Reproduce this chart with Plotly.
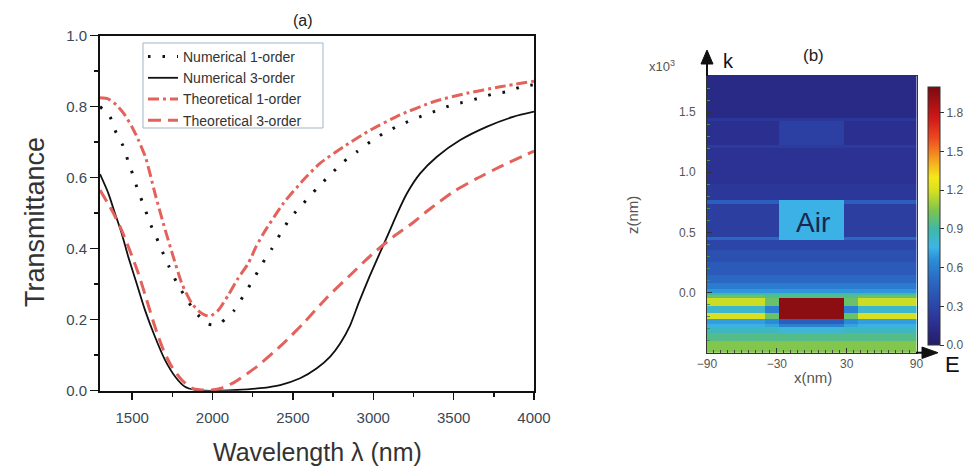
import plotly.graph_objects as go

# ---------------- data: panel (a) ----------------
num1_wl = [1300, 1362, 1393, 1443, 1476, 1507, 1538, 1576, 1607, 1649, 1688, 1730, 1777, 1829,
           1891, 1970, 2010, 2053, 2136, 2197, 2255, 2307, 2369, 2421, 2483, 2566, 2649, 2732,
           2815, 2898, 2981, 3064, 3147, 3240, 3323, 3406, 3490, 3573, 3656, 3739, 3828, 3915, 4000]
num1_T = [0.800, 0.772, 0.734, 0.690, 0.645, 0.605, 0.561, 0.518, 0.476, 0.434, 0.392, 0.349,
          0.305, 0.265, 0.223, 0.188, 0.185, 0.192, 0.227, 0.271, 0.314, 0.356, 0.400, 0.441,
          0.486, 0.528, 0.570, 0.608, 0.645, 0.673, 0.701, 0.725, 0.744, 0.763, 0.777, 0.791,
          0.805, 0.814, 0.824, 0.835, 0.842, 0.855, 0.862]

num3_wl = [1300, 1352, 1393, 1435, 1476, 1528, 1580, 1642, 1705, 1767, 1829, 1891, 1950, 2050,
           2150, 2296, 2421, 2545, 2649, 2732, 2794, 2857, 2910, 2975, 3040, 3100, 3150, 3210,
           3292, 3396, 3541, 3708, 3874, 4000]
num3_T = [0.610, 0.556, 0.500, 0.443, 0.377, 0.302, 0.227, 0.152, 0.086, 0.040, 0.011, 0.002,
          0.000, 0.000, 0.002, 0.007, 0.016, 0.035, 0.063, 0.096, 0.133, 0.185, 0.248, 0.320,
          0.387, 0.448, 0.500, 0.556, 0.612, 0.659, 0.706, 0.744, 0.772, 0.786]

theo1_wl = [1300, 1350, 1400, 1450, 1500, 1540, 1585, 1642, 1694, 1756, 1809, 1871, 1920, 1954,
            1985, 2037, 2099, 2161, 2223, 2270, 2317, 2441, 2566, 2670, 2815, 2981, 3168, 3375,
            3583, 3790, 4000]
theo1_T = [0.825, 0.822, 0.806, 0.780, 0.742, 0.705, 0.655, 0.556, 0.471, 0.377, 0.302, 0.246,
           0.222, 0.213, 0.210, 0.227, 0.270, 0.318, 0.359, 0.405, 0.443, 0.528, 0.594, 0.641,
           0.687, 0.734, 0.777, 0.814, 0.838, 0.856, 0.872]

theo3_wl = [1300, 1373, 1425, 1476, 1538, 1591, 1642, 1694, 1746, 1809, 1871, 1930, 1995, 2055,
            2140, 2276, 2431, 2566, 2711, 2846, 2992, 3126, 3240, 3344, 3500, 3645, 3790, 3946, 4000]
theo3_T = [0.565, 0.509, 0.462, 0.406, 0.331, 0.255, 0.180, 0.115, 0.068, 0.030, 0.007, 0.002,
           0.002, 0.007, 0.025, 0.068, 0.129, 0.190, 0.262, 0.321, 0.384, 0.434, 0.471, 0.509,
           0.561, 0.598, 0.631, 0.664, 0.675]

series_names = ["Numerical 1-order", "Numerical 3-order", "Theoretical 1-order", "Theoretical 3-order"]

a_xticks = [1500, 2000, 2500, 3000, 3500, 4000]
a_yticks = [0.0, 0.2, 0.4, 0.6, 0.8, 1.0]

# ---------------- data: panel (b) field map ----------------
# x column edges (nm); z band edges (x10^3 nm)
x_edges = [-90, -40, -28, 28, 40, 90]
z_edges = [-0.50, -0.40, -0.34, -0.29, -0.26, -0.22, -0.17, -0.11, -0.045, -0.02, 0.00, 0.03,
           0.08, 0.15, 0.25, 0.35, 0.44, 0.46, 0.74, 0.77, 0.90, 1.20, 1.23, 1.43, 1.45, 1.80]
# |E| in each band: outside region, next to block, inside block column
E_outer = [1.05, 0.95, 0.85, 0.75, 0.70, 1.20, 0.82, 1.18, 1.00, 0.92, 0.68, 0.58, 0.50, 0.42,
           0.36, 0.30, 0.50, 0.26, 0.45, 0.22, 0.18, 0.24, 0.16, 0.22, 0.12]
E_near = [1.05, 0.95, 0.85, 0.72, 0.65, 1.00, 0.60, 1.00, 0.95, 0.92, 0.68, 0.58, 0.50, 0.42,
          0.36, 0.30, 0.50, 0.26, 0.45, 0.22, 0.18, 0.24, 0.16, 0.22, 0.12]
E_inner = [1.05, 0.95, 0.80, 0.60, 0.45, 1.95, 1.95, 1.95, 0.95, 0.92, 0.68, 0.58, 0.50, 0.42,
           0.36, 0.30, 0.75, 0.75, 0.75, 0.22, 0.18, 0.24, 0.27, 0.22, 0.12]

cb_ticks = [0.0, 0.3, 0.6, 0.9, 1.2, 1.5, 1.8]
b_xticks = [-90, -30, 30, 90]
b_yticks = [0.0, 0.5, 1.0, 1.5]

# ---------------- figure ----------------
W, H = 968, 472
def X(px):
    return px / W
def Y(py):
    return 1 - py / H

FONT = "Liberation Sans, Arial, sans-serif"
TICKC = "#3a4856"
RED = "#e4625c"

fig = go.Figure()

fig.add_trace(go.Scatter(x=num1_wl, y=num1_T, name=series_names[0], mode="lines",
                         line=dict(color="#111111", width=3, dash="2.5px,12px", shape="spline", smoothing=0.6),
                         xaxis="x", yaxis="y"))
fig.add_trace(go.Scatter(x=num3_wl, y=num3_T, name=series_names[1], mode="lines",
                         line=dict(color="#111111", width=1.8, shape="spline", smoothing=0.6),
                         xaxis="x", yaxis="y"))
fig.add_trace(go.Scatter(x=theo1_wl, y=theo1_T, name=series_names[2], mode="lines",
                         line=dict(color=RED, width=3, dash="11px,4px,3px,4px", shape="spline", smoothing=0.6),
                         xaxis="x", yaxis="y"))
fig.add_trace(go.Scatter(x=theo3_wl, y=theo3_T, name=series_names[3], mode="lines",
                         line=dict(color=RED, width=3, dash="13px,7px", shape="spline", smoothing=0.6),
                         xaxis="x", yaxis="y"))

# field map
zmat = []
for i in range(len(z_edges) - 1):
    zmat.append([E_outer[i], E_near[i], E_inner[i], E_near[i], E_outer[i]])

cscale = [
    [0.00, "#241c6a"], [0.08, "#2b2f8f"], [0.15, "#2c45a8"], [0.25, "#2b68c4"],
    [0.33, "#2a8ed8"], [0.38, "#3db5e6"], [0.45, "#3fb8a8"], [0.52, "#7cc450"],
    [0.60, "#d8e020"], [0.65, "#f5e81a"], [0.72, "#f5a020"], [0.80, "#ee4a20"],
    [0.88, "#d01818"], [1.00, "#7a0a10"],
]
fig.add_trace(go.Heatmap(
    x=x_edges, y=z_edges, z=zmat, zmin=0, zmax=2.0, colorscale=cscale,
    xaxis="x2", yaxis="y2", showlegend=False, hoverinfo="skip",
    colorbar=dict(
        x=X(928), xanchor="left", xpad=0, thickness=12,
        y=Y(216), yanchor="middle", ypad=0, len=258 / H, lenmode="fraction",
        outlinewidth=1, outlinecolor="#333333",
        tickvals=cb_ticks, tickformat=".1f", ticks="outside", ticklen=4,
        tickcolor="#333333", tickfont=dict(family=FONT, size=12, color="#555555"),
    ),
))

fig.update_layout(
    width=W, height=H, margin=dict(l=0, r=0, t=0, b=0, autoexpand=False),
    paper_bgcolor="white", plot_bgcolor="white",
    font=dict(family=FONT, color="#333333"),
    hovermode=False,
    xaxis=dict(
        domain=[X(100), X(534)], range=[1300, 4000], tickvals=a_xticks,
        ticks="outside", ticklen=7, tickwidth=1.5, tickcolor="#111",
        minor=dict(dtick=250, ticks="outside", ticklen=4, tickwidth=1.5, tickcolor="#111"),
        showline=True, linecolor="#111", linewidth=2, mirror=True,
        showgrid=False, zeroline=False, automargin=False, ticklabelstandoff=5,
        tickfont=dict(family=FONT, size=15, color=TICKC),
        anchor="y",
    ),
    yaxis=dict(
        domain=[Y(390.7), Y(35.7)], range=[0, 1.0], tickvals=a_yticks, tickformat=".1f",
        ticks="outside", ticklen=8, tickwidth=1.5, tickcolor="#111",
        minor=dict(dtick=0.1, ticks="outside", ticklen=4, tickwidth=1.5, tickcolor="#111"),
        showline=True, linecolor="#111", linewidth=2, mirror=True,
        showgrid=False, zeroline=False, automargin=False,
        tickfont=dict(family=FONT, size=15, color=TICKC),
        anchor="x",
    ),
    xaxis2=dict(
        domain=[X(707), X(916.5)], range=[-90, 90], tickvals=b_xticks,
        ticks="inside", ticklen=5, tickcolor="#333",
        minor=dict(dtick=6, ticks="inside", ticklen=3, tickcolor="#444"),
        showline=True, linecolor="#333", linewidth=1, mirror=True,
        showgrid=False, zeroline=False, automargin=False,
        tickfont=dict(family=FONT, size=12, color="#555555"),
        anchor="y2",
    ),
    yaxis2=dict(
        domain=[Y(352.7), Y(76)], range=[-0.5, 1.8], tickvals=b_yticks, tickformat=".1f",
        ticks="inside", ticklen=5, tickcolor="#333",
        minor=dict(dtick=0.1, ticks="inside", ticklen=3, tickcolor="#3a9a50"),
        showline=True, linecolor="#333", linewidth=1, mirror=True,
        showgrid=False, zeroline=False, ticklabelstandoff=8, automargin=False,
        tickfont=dict(family=FONT, size=12, color="#555555"),
        anchor="x2",
    ),
    legend=dict(
        x=X(143), y=Y(41), xanchor="left", yanchor="top",
        bgcolor="rgba(0,0,0,0)", borderwidth=0,
        font=dict(family=FONT, size=14, color="#333333"),
        tracegroupgap=0,
    ),
    showlegend=True,
)

ann = [
    dict(text="(a)", x=X(303), y=Y(20), size=16, color="#222"),
    dict(text="Transmittance", x=X(35), y=Y(222), size=27, color="#333", angle=-90),
    dict(text="Wavelength \u03bb (nm)", x=X(317), y=Y(452), size=25, color="#333"),
    dict(text="(b)", x=X(813), y=Y(55), size=17, color="#222"),
    dict(text="x10<sup>3</sup>", x=X(662), y=Y(66), size=13, color="#555"),
    dict(text="k", x=X(728), y=Y(61), size=20, color="#111"),
    dict(text="z(nm)", x=X(632), y=Y(215), size=15, color="#555", angle=-90),
    dict(text="x(nm)", x=X(813), y=Y(377), size=15, color="#555"),
    dict(text="E", x=X(952), y=Y(364), size=22, color="#111"),
    dict(text="Air", x=X(813), y=Y(223), size=28, color="#1a2550"),
]
for a in ann:
    fig.add_annotation(text=a["text"], x=a["x"], y=a["y"], xref="paper", yref="paper",
                       showarrow=False, textangle=a.get("angle", 0),
                       font=dict(family=FONT, size=a["size"], color=a["color"]),
                       xanchor="center", yanchor="middle")

# legend frame, arrows for k and E
shapes = [
    dict(type="rect", x0=X(143), y0=Y(43), x1=X(323), y1=Y(128), layer="above",
         fillcolor="rgba(0,0,0,0)", line=dict(color="#9fb6c8", width=1)),
    dict(type="line", x0=X(707), y0=Y(76), x1=X(707), y1=Y(62), line=dict(color="#111", width=2)),
    dict(type="path", path=f"M {X(701)},{Y(64)} L {X(713)},{Y(64)} L {X(707)},{Y(50)} Z",
         fillcolor="#111", line=dict(color="#111", width=1)),
    dict(type="line", x0=X(916), y0=Y(352.7), x1=X(924), y1=Y(352.7), line=dict(color="#111", width=2)),
    dict(type="path", path=f"M {X(922)},{Y(347)} L {X(922)},{Y(358.5)} L {X(938)},{Y(352.7)} Z",
         fillcolor="#111", line=dict(color="#111", width=1)),
]
for s in shapes:
    fig.add_shape(xref="paper", yref="paper", **s)

fig.write_html(
    "out.html",
    config={"displayModeBar": False, "staticPlot": True},
    post_script="document.body.style.margin='0px';document.body.style.overflow='hidden';",
)
